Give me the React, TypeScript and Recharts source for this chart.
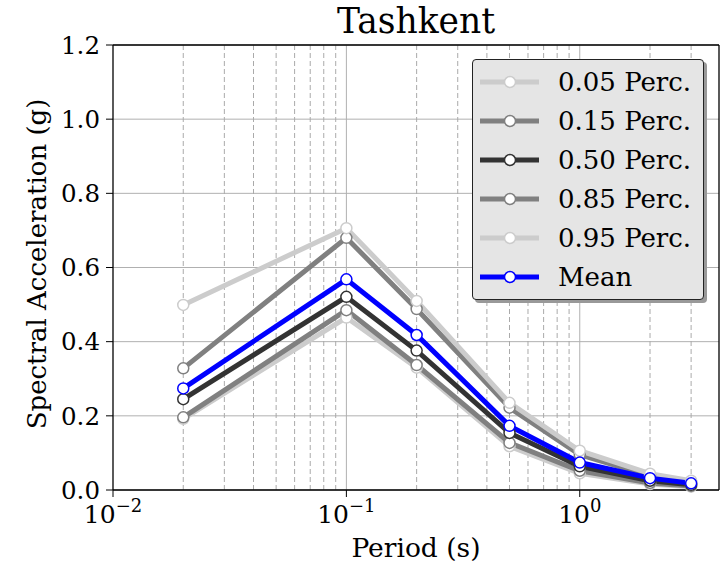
import React from 'react';
import { LineChart, Line, XAxis, YAxis, CartesianGrid, ReferenceLine } from 'recharts';

const FONT = '"DejaVu Serif", serif';

// periods (s) and spectral acceleration (g) per statistic
const periods = [0.02, 0.1, 0.2, 0.5, 1.0, 2.0, 3.0];
const p05 = [0.192, 0.465, 0.33, 0.118, 0.045, 0.016, 0.009];
const p15 = [0.196, 0.485, 0.337, 0.127, 0.052, 0.019, 0.011];
const p50 = [0.245, 0.521, 0.376, 0.154, 0.064, 0.025, 0.014];
const p85 = [0.328, 0.68, 0.488, 0.222, 0.095, 0.038, 0.021];
const p95 = [0.499, 0.706, 0.51, 0.235, 0.106, 0.044, 0.025];
const mean = [0.274, 0.568, 0.418, 0.173, 0.074, 0.032, 0.018];

const series = [
  { key: 'p05', name: '0.05 Perc.', values: p05, color: '#cccccc' },
  { key: 'p15', name: '0.15 Perc.', values: p15, color: '#808080' },
  { key: 'p50', name: '0.50 Perc.', values: p50, color: '#333333' },
  { key: 'p85', name: '0.85 Perc.', values: p85, color: '#808080' },
  { key: 'p95', name: '0.95 Perc.', values: p95, color: '#cccccc' },
  { key: 'mean', name: 'Mean', values: mean, color: '#0000ff' },
];

const yTicks = [0, 0.2, 0.4, 0.6, 0.8, 1.0, 1.2];
const xMajor = [0.01, 0.1, 1];
const xMinor = [0.02, 0.03, 0.04, 0.05, 0.06, 0.07, 0.08, 0.09, 0.2, 0.3, 0.4, 0.5, 0.6, 0.7, 0.8, 0.9, 2, 3];
const X_MAX = 3.95;

const rows = periods.map((p, i) => {
  const r: Record<string, number> = { period: p };
  series.forEach((s) => (r[s.key] = s.values[i]));
  return r;
});

function LogTick({ x, y, payload }: any) {
  const exp = Math.round(Math.log10(payload.value));
  return (
    <text x={x} y={y} textAnchor="middle" fontFamily={FONT} fill="#000">
      <tspan dy={24} fontSize={25}>10</tspan>
      <tspan dy={-11} fontSize={18}>{exp < 0 ? '\u2212' + -exp : String(exp)}</tspan>
    </text>
  );
}

function LegendBox() {
  return (
    <div
      style={{
        position: 'absolute',
        left: 472,
        top: 59,
        width: 232,
        height: 241,
        boxSizing: 'border-box',
        background: '#e5e5e5',
        border: '1px solid #222',
        borderRadius: 4,
        boxShadow: '3px 3px 0 #999',
        paddingTop: 2,
      }}
    >
      {series.map((s) => (
        <div key={s.key} style={{ display: 'flex', alignItems: 'center', height: 39 }}>
          <svg width={80} height={20}>
            <line x1={7} x2={66} y1={10} y2={10} stroke={s.color} strokeWidth={5} />
            <circle cx={37} cy={10} r={5.5} fill="#fff" stroke={s.color} strokeWidth={1.5} />
          </svg>
          <span style={{ fontFamily: FONT, fontSize: 26, color: '#000', marginLeft: 5, lineHeight: 1 }}>
            {s.name}
          </span>
        </div>
      ))}
    </div>
  );
}

export default function App() {
  return (
    <div style={{ position: 'absolute', left: 0, top: 0, width: 720, height: 563, background: '#fff' }}>
      <div
        style={{
          position: 'absolute',
          left: 113,
          width: 606,
          top: 1,
          textAlign: 'center',
          fontFamily: FONT,
          fontSize: 34.5,
          color: '#000',
          lineHeight: 1.2,
        }}
      >
        Tashkent
      </div>
      <LineChart width={720} height={563} data={rows} margin={{ top: 45, right: 1, bottom: 0, left: 0 }}>
        <CartesianGrid vertical={false} stroke="#b0b0b0" strokeWidth={1} />
        {xMinor.map((v) => (
          <ReferenceLine key={'m' + v} x={v} stroke="#aaaaaa" strokeDasharray="5 3" strokeWidth={1} />
        ))}
        {xMajor.slice(1).map((v) => (
          <ReferenceLine key={'M' + v} x={v} stroke="#b0b0b0" strokeWidth={1} />
        ))}
        <ReferenceLine y={1.2} stroke="#000" strokeWidth={1.3} />
        <ReferenceLine x={X_MAX} stroke="#000" strokeWidth={1.3} />
        <XAxis
          dataKey="period"
          type="number"
          scale="log"
          domain={[0.01, X_MAX]}
          ticks={xMajor}
          allowDataOverflow
          height={73}
          tickSize={7}
          tickMargin={2}
          axisLine={{ stroke: '#000', strokeWidth: 1.3 }}
          tickLine={{ stroke: '#000' }}
          tick={<LogTick />}
          label={() => (
            <text x={416} y={557} textAnchor="middle" fontFamily={FONT} fontSize={26.5} fill="#000">
              Period (s)
            </text>
          )}
        />
        <YAxis
          type="number"
          domain={[0, 1.2]}
          ticks={yTicks}
          width={113}
          tickSize={7}
          tickMargin={6}
          axisLine={{ stroke: '#000', strokeWidth: 1.3 }}
          tickLine={{ stroke: '#000' }}
          tick={{ fontFamily: FONT, fontSize: 24.5, fill: '#000' }}
          tickFormatter={(v: number) => v.toFixed(1)}
          label={() => (
            <text
              x={0}
              y={0}
              transform="translate(46 264) rotate(-90)"
              textAnchor="middle"
              fontFamily={FONT}
              fontSize={26}
              fill="#000"
            >
              Spectral Acceleration (g)
            </text>
          )}
        />
        {series.map((s) => (
          <Line
            key={s.key}
            dataKey={s.key}
            name={s.name}
            type="linear"
            stroke={s.color}
            strokeWidth={5}
            dot={{ r: 5.5, fill: '#fff', stroke: s.color, strokeWidth: 1.5 }}
            activeDot={false}
            isAnimationActive={false}
          />
        ))}
      </LineChart>
      <LegendBox />
    </div>
  );
}
